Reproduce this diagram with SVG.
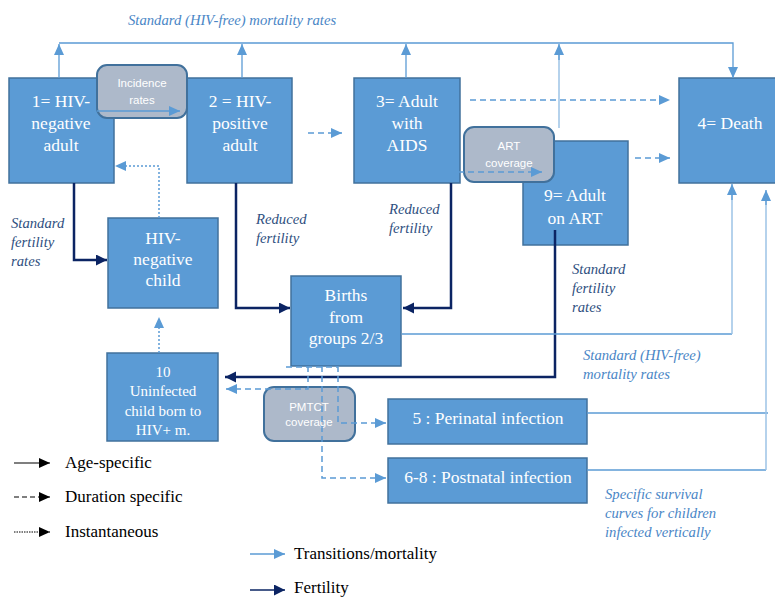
<svg xmlns="http://www.w3.org/2000/svg" width="775" height="597" viewBox="0 0 775 597">
<style>
.box{fill:#5b9bd5;stroke:#41719c;stroke-width:1.5}
.rbox{fill:#adb9ca;stroke:#41719c;stroke-width:2}
.bt{font-family:'Liberation Serif','Times New Roman','DejaVu Serif',serif;font-size:17.5px;fill:#fff;text-anchor:middle}
.bs{font-size:15px}
.st{font-family:'Liberation Sans',Arial,sans-serif;font-size:11.5px;fill:#fff;text-anchor:middle}
.lm{font-family:'Liberation Serif','Times New Roman','DejaVu Serif',serif;font-size:14.7px;font-style:italic;fill:#4a86c6}
.lf{font-family:'Liberation Serif','Times New Roman','DejaVu Serif',serif;font-size:14.7px;font-style:italic;fill:#2f4f80}
.lg{font-family:'Liberation Serif','Times New Roman','DejaVu Serif',serif;font-size:17px;fill:#000}
.t{fill:none;stroke:#5b9bd5;stroke-width:1.3}
.tl{fill:none;stroke:#9dc3e6;stroke-width:1.5}
.d{fill:none;stroke:#5b9bd5;stroke-width:1.5;stroke-dasharray:6 4}
.o{fill:none;stroke:#5b9bd5;stroke-width:1.5;stroke-dasharray:2 2}
.f{fill:none;stroke:#0b2463;stroke-width:2.5}
</style>
<defs>
<marker id="aL" markerUnits="userSpaceOnUse" markerWidth="12" markerHeight="12" refX="11" refY="5" orient="auto"><path d="M0,0 L11,5 L0,10 z" fill="#5b9bd5"/></marker>
<marker id="aF" markerUnits="userSpaceOnUse" markerWidth="12" markerHeight="12" refX="11" refY="5.5" orient="auto"><path d="M0,0 L11,5.5 L0,11 z" fill="#0b2463"/></marker>
<marker id="aK" markerUnits="userSpaceOnUse" markerWidth="12" markerHeight="12" refX="11" refY="5" orient="auto"><path d="M0,0 L11,5 L0,10 z" fill="#000"/></marker>
</defs>
<rect width="775" height="597" fill="#fff"/>

<g id="n1"><rect class="box" x="9" y="78" width="105" height="105"/><text class="bt" x="61" y="107">1= HIV-</text><text class="bt" x="61" y="129">negative</text><text class="bt" x="61" y="151">adult</text></g>
<g id="n2"><rect class="box" x="187" y="78" width="105" height="105"/><text class="bt" x="240" y="107">2 = HIV-</text><text class="bt" x="240" y="129">positive</text><text class="bt" x="240" y="151">adult</text></g>
<g id="n3"><rect class="box" x="354" y="78" width="106" height="105"/><text class="bt" x="407" y="107">3= Adult</text><text class="bt" x="407" y="129">with</text><text class="bt" x="407" y="151">AIDS</text></g>
<g id="n4"><rect class="box" x="679" y="78" width="102" height="105"/><text class="bt" x="730" y="129">4= Death</text></g>
<g id="n9"><rect class="box" x="523" y="141" width="105" height="104"/><text class="bt" x="575" y="201">9= Adult</text><text class="bt" x="575" y="224">on ART</text></g>
<g id="nchild"><rect class="box" x="108" y="218" width="110" height="90"/><text class="bt" x="163" y="244">HIV-</text><text class="bt" x="163" y="265">negative</text><text class="bt" x="163" y="286">child</text></g>
<g id="nbirths"><rect class="box" x="291" y="276" width="110" height="90"/><text class="bt" x="346" y="301">Births</text><text class="bt" x="346" y="323">from</text><text class="bt" x="346" y="344">groups 2/3</text></g>
<g id="n10"><rect class="box" x="107" y="353" width="111" height="88"/><text class="bt bs" x="163" y="377">10</text><text class="bt bs" x="163" y="396">Uninfected</text><text class="bt bs" x="163" y="416">child born to</text><text class="bt bs" x="163" y="435">HIV+ m.</text></g>
<g id="n5"><rect class="box" x="388" y="399" width="199" height="45"/><text class="bt" x="488" y="424">5 : Perinatal infection</text></g>
<g id="n68"><rect class="box" x="388" y="458" width="199" height="45"/><text class="bt" x="488" y="483">6-8 : Postnatal infection</text></g>

<g id="connectors">
<path class="t" d="M59,78 V44" marker-end="url(#aL)"/>
<path class="t" d="M242,78 V44" marker-end="url(#aL)"/>
<path class="t" d="M406,78 V44" marker-end="url(#aL)"/>
<path class="tl" d="M559,128 V46"/>
<path class="t" d="M559,60 V44" marker-end="url(#aL)"/>
<path class="t" d="M59,43 H733 V78" marker-end="url(#aL)"/>
<path class="d" d="M308,133 H342" marker-end="url(#aL)"/>
<path class="d" d="M470,100 H670" marker-end="url(#aL)"/>
<path class="d" d="M635,158 H670" marker-end="url(#aL)"/>
<path class="o" d="M159,218 V166 H115" marker-end="url(#aL)"/>
<path class="o" d="M159,353 V317" marker-end="url(#aL)"/>
<path class="f" d="M74,183 V260 H107" marker-end="url(#aF)"/>
<path class="f" d="M236,183 V308 H290" marker-end="url(#aF)"/>
<path class="f" d="M451,183 V308 H403" marker-end="url(#aF)"/>
<path class="f" d="M555,230 V377 H225" marker-end="url(#aF)"/>
<path class="t" d="M402,334 H732"/>
<path class="tl" d="M732,334 V190"/>
<path class="t" d="M732,200 V184" marker-end="url(#aL)"/>
<path class="t" d="M587,413 H768"/>
<path class="t" d="M587,470 H766"/>
<path class="tl" d="M766,470 V196"/>
<path class="t" d="M766,205 V190" marker-end="url(#aL)"/>
</g>

<g id="incidence"><rect class="rbox" x="97" y="65" width="90" height="53" rx="10"/><text class="st" x="142" y="87">Incidence</text><text class="st" x="142" y="104">rates</text></g>
<g id="art"><rect class="rbox" x="464" y="127" width="90" height="55" rx="10"/><text class="st" x="509" y="150">ART</text><text class="st" x="509" y="167">coverage</text></g>
<g id="pmtct"><rect class="rbox" x="264" y="387" width="91" height="54" rx="10"/><text class="st" x="309" y="411">PMTCT</text><text class="st" x="309" y="426">coverage</text></g>

<g id="connectors-over">
<path class="t" d="M97,111 H180" marker-end="url(#aL)"/>
<path class="d" d="M458,172 H542" marker-end="url(#aL)"/>
<path class="d" d="M286,367 H338"/>
<path class="d" d="M308,366 V389 H226" marker-end="url(#aL)"/>
<path class="d" d="M338,366 V423 H386" marker-end="url(#aL)"/>
<path class="d" d="M322,366 V478 H386" marker-end="url(#aL)"/>
</g>

<g id="labels">
<text class="lm" x="128" y="25">Standard (HIV-free) mortality rates</text>
<text class="lf" x="11" y="228">Standard</text><text class="lf" x="11" y="247">fertility</text><text class="lf" x="11" y="266">rates</text>
<text class="lf" x="256" y="224">Reduced</text><text class="lf" x="256" y="243">fertility</text>
<text class="lf" x="389" y="214">Reduced</text><text class="lf" x="389" y="233">fertility</text>
<text class="lf" x="572" y="274">Standard</text><text class="lf" x="572" y="293">fertility</text><text class="lf" x="572" y="312">rates</text>
<text class="lm" x="583" y="360">Standard (HIV-free)</text><text class="lm" x="583" y="379">mortality rates</text>
<text class="lm" x="605" y="499">Specific survival</text><text class="lm" x="605" y="518">curves for children</text><text class="lm" x="605" y="537">infected vertically</text>
</g>

<g id="legend">
<path d="M14,463 H50" stroke="#000" stroke-width="1.2" fill="none" marker-end="url(#aK)"/>
<text class="lg" x="65" y="468">Age-specific</text>
<path d="M14,497 H50" stroke="#000" stroke-width="1.2" stroke-dasharray="5 3" fill="none" marker-end="url(#aK)"/>
<text class="lg" x="65" y="502">Duration specific</text>
<path d="M14,532 H50" stroke="#000" stroke-width="1" stroke-dasharray="1.5 1" fill="none" marker-end="url(#aK)"/>
<text class="lg" x="65" y="537">Instantaneous</text>
<path class="t" d="M250,554 H285" marker-end="url(#aL)"/>
<text class="lg" x="294" y="559">Transitions/mortality</text>
<path d="M250,590 H285" stroke="#0b2463" stroke-width="1.3" fill="none" marker-end="url(#aF)"/>
<text class="lg" x="294" y="593">Fertility</text>
</g>
</svg>
